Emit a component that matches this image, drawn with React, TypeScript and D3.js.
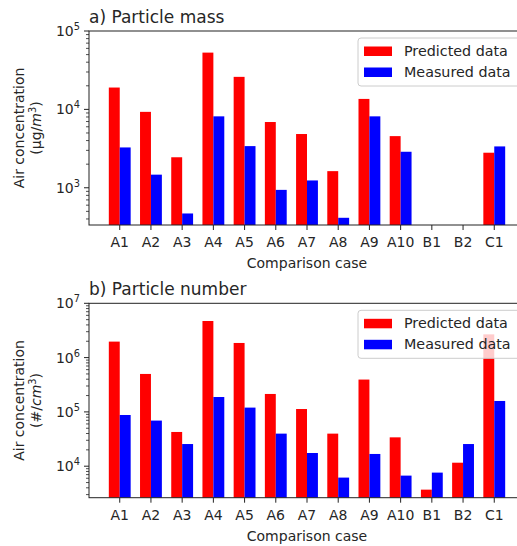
import React from "react";
import * as d3 from "d3";

const categories = ["A1", "A2", "A3", "A4", "A5", "A6", "A7", "A8", "A9", "A10", "B1", "B2", "C1"];
const massPredicted: (number | null)[] = [19000, 9300, 2450, 53000, 26000, 6900, 4850, 1630, 13600, 4560, null, null, 2800];
const massMeasured: (number | null)[] = [3270, 1470, 470, 8150, 3400, 940, 1240, 414, 8150, 2880, null, null, 3370];
const numberPredicted: (number | null)[] = [1970000, 500000, 42700, 4720000, 1860000, 214000, 113000, 39800, 394000, 34000, 3700, 11600, 2680000];
const numberMeasured: (number | null)[] = [87700, 69200, 25600, 188000, 120000, 39800, 17500, 6170, 16800, 6710, 7620, 25600, 159000];
const seriesNames = ["Predicted data", "Measured data"];
const seriesColors = ["#ff0000", "#0000ff"];

const FONT = "DejaVu Sans, sans-serif";
const TXT = "#262626";
const FS = 14;

type PanelProps = {
  top: number;
  bottom: number;
  title: string;
  yDomain: [number, number];
  majorTicks: number[];
  unit: React.ReactNode;
  pred: (number | null)[];
  meas: (number | null)[];
};

function Panel({ top, bottom, title, yDomain, majorTicks, unit, pred, meas }: PanelProps) {
  const left = 89;
  const right = 525;
  const x = d3.scaleLinear().domain([-0.985, 12.985]).range([left, right]);
  const y = d3.scaleLog().domain(yDomain).range([bottom, top]);
  const bw = 0.35;
  const minor: number[] = [];
  const lo = Math.floor(Math.log10(yDomain[0]));
  const hi = Math.ceil(Math.log10(yDomain[1]));
  for (let e = lo; e < hi; e++) {
    for (let k = 2; k <= 9; k++) {
      const v = k * Math.pow(10, e);
      if (v >= yDomain[0] && v <= yDomain[1]) minor.push(v);
    }
  }
  const cy = (top + bottom) / 2;
  const legX = 358;
  const legY = top + 7;
  return (
    <g>
      {categories.map((c, i) => (
        <g key={c}>
          {pred[i] != null && (
            <rect x={x(i - bw)} width={x(i) - x(i - bw)} y={y(pred[i] as number)} height={bottom - y(pred[i] as number)} fill={seriesColors[0]} />
          )}
          {meas[i] != null && (
            <rect x={x(i)} width={x(i + bw) - x(i)} y={y(meas[i] as number)} height={bottom - y(meas[i] as number)} fill={seriesColors[1]} />
          )}
        </g>
      ))}
      <rect x={left} y={top} width={right - left} height={bottom - top} fill="none" stroke="#222" strokeWidth={1} />
      {majorTicks.map((t) => (
        <g key={t}>
          <line x1={left - 5} x2={left} y1={y(t)} y2={y(t)} stroke="#222" />
          <text x={left - 9} y={y(t) + 5} textAnchor="end" fontFamily={FONT} fontSize={FS} fill={TXT}>
            10<tspan dy={-6} fontSize={9.8}>{Math.round(Math.log10(t))}</tspan>
          </text>
        </g>
      ))}
      {minor.map((t) => (
        <line key={t} x1={left - 3} x2={left} y1={y(t)} y2={y(t)} stroke="#222" strokeWidth={0.8} />
      ))}
      {categories.map((c, i) => (
        <g key={c}>
          <line x1={x(i)} x2={x(i)} y1={bottom} y2={bottom + 5} stroke="#222" />
          <text x={x(i)} y={bottom + 22} textAnchor="middle" fontFamily={FONT} fontSize={FS} fill={TXT}>{c}</text>
        </g>
      ))}
      <text x={(left + right) / 2} y={bottom + 43} textAnchor="middle" fontFamily={FONT} fontSize={FS} fill={TXT}>Comparison case</text>
      <text x={left} y={top - 8} fontFamily={FONT} fontSize={17} fill={TXT}>{title}</text>
      <text transform={`translate(24,${cy}) rotate(-90)`} textAnchor="middle" fontFamily={FONT} fontSize={FS} fill={TXT}>Air concentration</text>
      <text transform={`translate(41,${cy}) rotate(-90)`} textAnchor="middle" fontFamily={FONT} fontSize={FS} fill={TXT}>{unit}</text>
      <rect x={legX} y={legY} width={175} height={48} rx={3} fill="white" fillOpacity={0.8} stroke="#cccccc" strokeWidth={1} />
      {seriesNames.map((s, k) => (
        <g key={s}>
          <rect x={legX + 6} y={legY + 8.5 + k * 21} width={28} height={9.5} fill={seriesColors[k]} />
          <text x={legX + 46} y={legY + 18 + k * 21} fontFamily={FONT} fontSize={14.3} fill={TXT}>{s}</text>
        </g>
      ))}
    </g>
  );
}

export default function App() {
  return (
    <svg width={517} height={546} style={{ position: "absolute", left: 0, top: 0, background: "white" }}>
      <Panel
        top={31}
        bottom={225}
        title="a) Particle mass"
        yDomain={[335, 100000]}
        majorTicks={[1000, 10000, 100000]}
        unit={<>(μg/<tspan fontStyle="italic">m</tspan><tspan dy={-5} fontSize={9.8}>3</tspan><tspan dy={5}>)</tspan></>}
        pred={massPredicted}
        meas={massMeasured}
      />
      <Panel
        top={303.3}
        bottom={497.7}
        title="b) Particle number"
        yDomain={[2630, 10000000]}
        majorTicks={[10000, 100000, 1000000, 10000000]}
        unit={<>(#/<tspan fontStyle="italic">cm</tspan><tspan dy={-5} fontSize={9.8}>3</tspan><tspan dy={5}>)</tspan></>}
        pred={numberPredicted}
        meas={numberMeasured}
      />
    </svg>
  );
}
